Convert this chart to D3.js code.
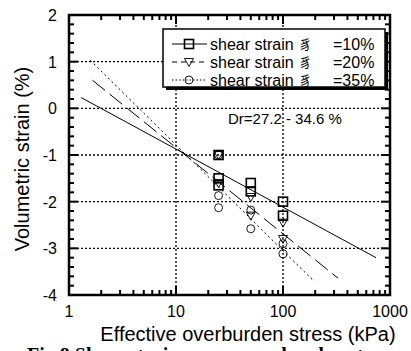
<!DOCTYPE html>
<html>
<head>
<meta charset="utf-8">
<script src="https://cdn.jsdelivr.net/npm/d3@7"></script>
<style>
  body { margin: 0; background: #fff; }
  svg { display: block; font-family: "Liberation Sans", Arial, sans-serif; }
</style>
</head>
<body>
<div id="here"></div>
<script>
var w = 411, h = 351;

// measured points, stress in kPa, volumetric strain in %
var strain10 = [[25, -1.0], [25, -1.5], [25, -1.65], [50, -1.6], [50, -1.78], [100, -2.0], [100, -2.3]];
var strain20 = [[25, -1.0], [25, -1.6], [50, -1.9], [50, -2.3], [100, -2.45], [100, -2.8]];
var strain35 = [[25, -1.0], [25, -1.87], [25, -2.13], [50, -2.18], [50, -2.58], [100, -2.9], [100, -3.12]];

// fitted lines, [stress, strain] at both ends
var fit10 = [[1.3, 0.23], [740, -3.2]];
var fit20 = [[1.66, 0.6], [327, -3.64]];
var fit35 = [[1.58, 1.03], [190, -3.68]];

var xTicks = [1, 10, 100, 1000];
var yTicks = [-4, -3, -2, -1, 0, 1, 2];
var legendLabels = ["=10%", "=20%", "=35%"];

var x = d3.scaleLog().domain([1, 1000]).range([69, 390]);
var y = d3.scaleLinear().domain([-4, 2]).range([295, 15]);

var svg = d3.select("#here").append("svg")
  .attr("width", w)
  .attr("height", h);

// grid
svg.selectAll(".gy").data([-3, -2, -1, 0, 1]).enter().append("line")
  .attr("x1", x(1)).attr("x2", x(1000))
  .attr("y1", function(d) { return y(d); }).attr("y2", function(d) { return y(d); })
  .attr("stroke", "#000").attr("stroke-width", 1.3).attr("stroke-dasharray", "2,2");
svg.selectAll(".gx").data([10, 100]).enter().append("line")
  .attr("y1", y(-4)).attr("y2", y(2))
  .attr("x1", function(d) { return x(d); }).attr("x2", function(d) { return x(d); })
  .attr("stroke", "#000").attr("stroke-width", 1.3).attr("stroke-dasharray", "2,2");

// fit lines
var line = d3.line().x(function(d) { return x(d[0]); }).y(function(d) { return y(d[1]); });
var fits = [
  {pts: fit10, dash: null},
  {pts: fit20, dash: "16,6"},
  {pts: fit35, dash: "2,3"}
];
svg.selectAll(".fit").data(fits).enter().append("path")
  .attr("d", function(d) { return line(d.pts); })
  .attr("fill", "none").attr("stroke", "#000").attr("stroke-width", 1)
  .attr("stroke-dasharray", function(d) { return d.dash; });

// markers
function square(g, cx, cy) {
  g.append("rect").attr("x", cx - 4.5).attr("y", cy - 4.5).attr("width", 9).attr("height", 9)
    .attr("fill", "none").attr("stroke", "#000").attr("stroke-width", 1.6);
}
function tri(g, cx, cy) {
  g.append("path").attr("d", "M" + (cx - 4.5) + "," + (cy - 3.5) + "L" + (cx + 4.5) + "," + (cy - 3.5) + "L" + cx + "," + (cy + 4.5) + "Z")
    .attr("fill", "none").attr("stroke", "#000").attr("stroke-width", 0.9);
}
function circ(g, cx, cy) {
  g.append("circle").attr("cx", cx).attr("cy", cy).attr("r", 4)
    .attr("fill", "none").attr("stroke", "#000").attr("stroke-width", 0.9);
}
strain35.forEach(function(d) { circ(svg, x(d[0]), y(d[1])); });
strain20.forEach(function(d) { tri(svg, x(d[0]), y(d[1])); });
strain10.forEach(function(d) { square(svg, x(d[0]), y(d[1])); });

// ticks (inside, all four sides)
var minor = [];
[1, 10, 100].forEach(function(b) { for (var k = 2; k <= 9; k++) minor.push(b * k); });
var yMinor = d3.range(-4, 2.001, 0.2);
var tk = svg.append("g").attr("stroke", "#000").attr("stroke-width", 2);
minor.forEach(function(v) {
  tk.append("line").attr("x1", x(v)).attr("x2", x(v)).attr("y1", y(-4)).attr("y2", y(-4) - 5);
  tk.append("line").attr("x1", x(v)).attr("x2", x(v)).attr("y1", y(2)).attr("y2", y(2) + 5);
});
xTicks.forEach(function(v) {
  tk.append("line").attr("x1", x(v)).attr("x2", x(v)).attr("y1", y(-4)).attr("y2", y(-4) - 9);
  tk.append("line").attr("x1", x(v)).attr("x2", x(v)).attr("y1", y(2)).attr("y2", y(2) + 9);
});
yMinor.forEach(function(v) {
  var len = Math.abs(v - Math.round(v)) < 1e-6 ? 9 : 5;
  tk.append("line").attr("x1", x(1)).attr("x2", x(1) + len).attr("y1", y(v)).attr("y2", y(v));
  tk.append("line").attr("x1", x(1000)).attr("x2", x(1000) - len).attr("y1", y(v)).attr("y2", y(v));
});

// frame
svg.append("rect").attr("x", x(1)).attr("y", y(2))
  .attr("width", x(1000) - x(1)).attr("height", y(-4) - y(2))
  .attr("fill", "none").attr("stroke", "#000").attr("stroke-width", 2.5);

// tick labels
svg.selectAll(".xl").data(xTicks).enter().append("text")
  .attr("x", function(d) { return x(d); }).attr("y", 317)
  .attr("text-anchor", "middle").style("font-size", "16px")
  .text(function(d) { return d; });
svg.selectAll(".yl").data(yTicks).enter().append("text")
  .attr("x", 57).attr("y", function(d) { return y(d) + 6; })
  .attr("text-anchor", "end").style("font-size", "16px")
  .text(function(d) { return d; });

// axis titles
svg.append("text").attr("x", 248).attr("y", 341)
  .attr("text-anchor", "middle").style("font-size", "20px")
  .text("Effective overburden stress (kPa)");
svg.append("text").attr("transform", "translate(29,159) rotate(-90)")
  .attr("text-anchor", "middle").style("font-size", "20px")
  .text("Volumetric strain (%)");

// caption, cut by the bottom edge as in the source
svg.append("text").attr("x", 27).attr("y", 362)
  .style("font-family", "'Liberation Serif', 'Times New Roman', serif")
  .style("font-weight", "bold").style("font-size", "20px")
  .text("Fig.8 Shear strain versus overburden stress");

// Dr note
svg.append("text").attr("x", 228).attr("y", 124).style("font-size", "15px")
  .text("Dr=27.2 - 34.6 %");

// legend
var lg = svg.append("g");
lg.append("rect").attr("x", 166).attr("y", 32).attr("width", 222).attr("height", 58).attr("fill", "#000");
lg.append("rect").attr("x", 163).attr("y", 29).attr("width", 222).attr("height", 58)
  .attr("fill", "#fff").attr("stroke", "#000").attr("stroke-width", 1.5);
var rows = [44, 62, 80];
var dashes = [null, "5,4", "1.5,2"];
rows.forEach(function(ry, i) {
  lg.append("line").attr("x1", 172).attr("x2", 207).attr("y1", ry).attr("y2", ry)
    .attr("stroke", "#000").attr("stroke-width", 1).attr("stroke-dasharray", dashes[i]);
  if (i === 0) square(lg, 189, ry);
  if (i === 1) tri(lg, 189, ry);
  if (i === 2) circ(lg, 189, ry);
  lg.append("text").attr("x", 210).attr("y", ry + 6).style("font-size", "16px").text("shear strain");
  lg.append("text").attr("x", 299).attr("y", ry + 5)
    .style("font-family", "'Noto Sans CJK SC', sans-serif").style("font-size", "13px").text("豸");
  lg.append("text").attr("x", 333).attr("y", ry + 6).style("font-size", "16px").text(legendLabels[i]);
});
</script>
</body>
</html>
